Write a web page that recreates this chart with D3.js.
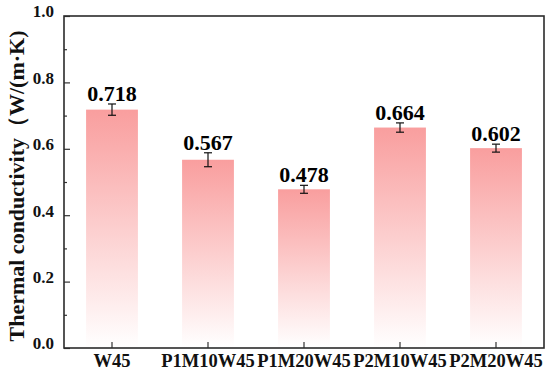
<!DOCTYPE html>
<html>
<head>
<meta charset="utf-8">
<script src="https://cdn.jsdelivr.net/npm/d3@7"></script>
<style>
  body { margin: 0; background: #fff; }
  text { font-family: "Liberation Serif", "Times New Roman", serif; font-weight: bold; }
</style>
</head>
<body>
<div id="chart"></div>
<script>
// Data
var samples = ["W45", "P1M10W45", "P1M20W45", "P2M10W45", "P2M20W45"]
var conductivity = [0.718, 0.567, 0.478, 0.664, 0.602]
var errors = [0.017, 0.021, 0.012, 0.014, 0.012]
var yTickValues = [0.0, 0.2, 0.4, 0.6, 0.8, 1.0]
var yMinorValues = [0.1, 0.3, 0.5, 0.7, 0.9]

var W = 550, H = 375
var margin = { top: 16, right: 6, bottom: 27, left: 64 }
var width = W - margin.left - margin.right,
    height = H - margin.top - margin.bottom

var svg = d3.select("#chart")
    .append("svg")
    .attr("width", W)
    .attr("height", H)

// gradient for the bars, pink on top fading to white
var grad = svg.append("defs")
    .append("linearGradient")
    .attr("id", "barFill")
    .attr("x1", 0).attr("y1", 0)
    .attr("x2", 0).attr("y2", 1)
grad.append("stop").attr("offset", "0%").attr("stop-color", "#f99e9e")
grad.append("stop").attr("offset", "100%").attr("stop-color", "#ffffff")

var g = svg.append("g")
    .attr("transform", "translate(" + margin.left + "," + margin.top + ")")

var x = d3.scaleBand()
    .domain(samples)
    .range([0, width])
    .paddingInner(0.46)
    .paddingOuter(0.23)

var y = d3.scaleLinear()
    .domain([0, 1])
    .range([height, 0])

// bars
g.selectAll(".bar")
    .data(samples)
    .enter()
    .append("rect")
    .attr("class", "bar")
    .attr("x", d => x(d))
    .attr("y", (d, i) => y(conductivity[i]))
    .attr("width", x.bandwidth())
    .attr("height", (d, i) => height - y(conductivity[i]))
    .style("fill", "url(#barFill)")

// error bars
var eb = g.selectAll(".err")
    .data(samples)
    .enter()
    .append("g")
    .attr("class", "err")
    .attr("transform", d => "translate(" + (x(d) + x.bandwidth() / 2) + ",0)")
    .style("stroke", "#111")
    .style("stroke-width", 1.2)

eb.append("line")
    .attr("y1", (d, i) => y(conductivity[i] + errors[i]))
    .attr("y2", (d, i) => y(conductivity[i] - errors[i]))
eb.append("line")
    .attr("x1", -4).attr("x2", 4)
    .attr("y1", (d, i) => y(conductivity[i] + errors[i]))
    .attr("y2", (d, i) => y(conductivity[i] + errors[i]))
eb.append("line")
    .attr("x1", -4).attr("x2", 4)
    .attr("y1", (d, i) => y(conductivity[i] - errors[i]))
    .attr("y2", (d, i) => y(conductivity[i] - errors[i]))

// value labels
g.selectAll(".val")
    .data(samples)
    .enter()
    .append("text")
    .attr("class", "val")
    .attr("x", d => x(d) + x.bandwidth() / 2)
    .attr("y", (d, i) => y(conductivity[i] + errors[i]) - 3)
    .attr("text-anchor", "middle")
    .style("font-size", "22px")
    .text((d, i) => conductivity[i].toFixed(3))

// y axis, ticks pointing inward
var yAxis = g.append("g")
    .attr("id", "AxisY")
    .call(d3.axisRight(y).tickValues(yTickValues).tickSize(6).tickFormat(d3.format(".1f")))
yAxis.select(".domain").remove()
yAxis.selectAll(".tick line").style("stroke", "#333").style("stroke-width", 1.2)
yAxis.selectAll(".tick text")
    .attr("x", -10)
    .attr("dy", "0.05em")
    .attr("text-anchor", "end")
    .style("font-size", "17px")
    .style("fill", "#111")

g.append("g")
    .attr("id", "AxisYMinor")
    .call(d3.axisRight(y).tickValues(yMinorValues).tickSize(3).tickFormat(""))
    .call(a => a.select(".domain").remove())
    .selectAll(".tick line").style("stroke", "#333").style("stroke-width", 1.2)

// x axis, ticks pointing up
var xAxis = g.append("g")
    .attr("id", "AxisX")
    .attr("transform", "translate(0," + height + ")")
    .call(d3.axisTop(x).tickSize(6))
xAxis.select(".domain").remove()
xAxis.selectAll(".tick line").style("stroke", "#333").style("stroke-width", 1.2)
xAxis.selectAll(".tick text")
    .attr("y", 19)
    .attr("dy", 0)
    .style("font-size", "18.5px")
    .style("fill", "#111")

// frame
g.append("rect")
    .attr("width", width)
    .attr("height", height)
    .style("fill", "none")
    .style("stroke", "#2b2b2b")
    .style("stroke-width", 1.6)

// y title
svg.append("text")
    .attr("transform", "translate(24," + (margin.top + height / 2 + 4) + ") rotate(-90)")
    .attr("text-anchor", "middle")
    .style("font-size", "22px")
    .style("fill", "#111")
    .text("Thermal conductivity（W/(m·K)")
</script>
</body>
</html>
